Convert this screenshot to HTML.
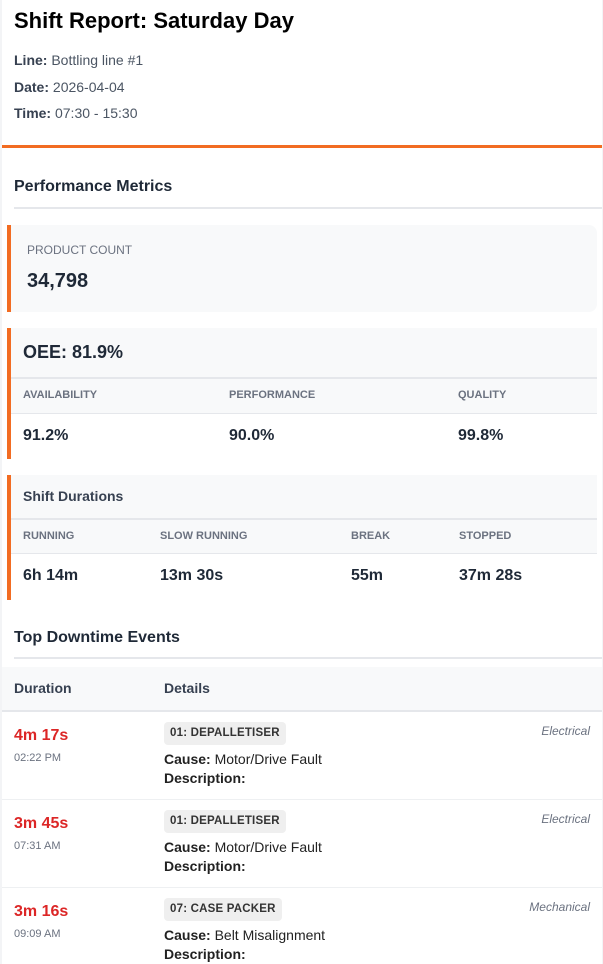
<!DOCTYPE html>
<html><head><meta charset="utf-8"><style>
*{margin:0;padding:0;box-sizing:border-box}
html,body{width:603px;height:964px;overflow:hidden;background:#f3f4f6;font-family:"Liberation Sans",Arial,sans-serif}
.c{position:absolute;left:2px;top:0;width:600px;height:964px;background:#fff}
.a{position:absolute;white-space:nowrap}
.t{line-height:20px}
.or{background:#f26c22}
.bg{background:#f8f9fa}
.ln{background:#e5e7eb}
.lab{font-size:11px;font-weight:bold;color:#6b7280;line-height:20px}
.val{font-size:16px;font-weight:bold;color:#1f2937;line-height:20px}
.meta{font-size:14px;color:#4b5563;line-height:20px;left:14px}
.meta b{color:#374151}
.red{font-size:16px;font-weight:bold;color:#dc2626;line-height:20px;left:14px}
.tm{font-size:11px;color:#6b7280;line-height:20px;left:14px}
.badge{left:164px;height:23px;background:#efefef;border-radius:4px;font-size:11.5px;font-weight:bold;color:#333;letter-spacing:0.2px;line-height:23px;padding:0 6px 0 6px}
.cause{left:164px;font-size:14px;color:#222;line-height:20px}
.cat{right:13px;font-size:12px;font-style:italic;color:#6b7280;line-height:20px;text-align:right}
.sep{left:2px;width:600px;height:1px;background:#eef0f2}
</style></head><body>
<div class="c"></div>

<div class="a" style="left:14px;top:8px;font-size:22px;font-weight:bold;color:#000;line-height:26px">Shift Report: Saturday Day</div>
<div class="a meta" style="top:50px"><b>Line:</b> Bottling line #1</div>
<div class="a meta" style="top:77px"><b>Date:</b> 2026-04-04</div>
<div class="a meta" style="top:103px"><b>Time:</b> 07:30 - 15:30</div>

<div class="a or" style="left:2px;top:145px;width:600px;height:3px"></div>

<div class="a t" style="left:14px;top:177px;font-size:16px;font-weight:bold;color:#1f2937">Performance Metrics</div>
<div class="a ln" style="left:14px;top:207px;width:588px;height:2px"></div>

<!-- Product count card -->
<div class="a bg" style="left:7px;top:225px;width:590px;height:87px;border-left:4px solid #f26c22;border-radius:0 8px 8px 0"></div>
<div class="a" style="left:27px;top:240px;font-size:12px;color:#6b7280;line-height:20px">PRODUCT COUNT</div>
<div class="a" style="left:27px;top:269px;font-size:20px;font-weight:bold;color:#1f2937;line-height:24px">34,798</div>

<!-- OEE card -->
<div class="a or" style="left:7px;top:328px;width:4px;height:131px"></div>
<div class="a bg" style="left:11px;top:328px;width:586px;height:49px"></div>
<div class="a ln" style="left:11px;top:377px;width:586px;height:2px"></div>
<div class="a bg" style="left:11px;top:379px;width:586px;height:34px"></div>
<div class="a ln" style="left:11px;top:413px;width:586px;height:1px"></div>
<div class="a" style="left:23px;top:340px;font-size:18px;font-weight:bold;color:#1f2937;line-height:24px">OEE: 81.9%</div>
<div class="a lab" style="left:23px;top:385px">AVAILABILITY</div>
<div class="a lab" style="left:229px;top:385px">PERFORMANCE</div>
<div class="a lab" style="left:458px;top:385px">QUALITY</div>
<div class="a val" style="left:23px;top:426px">91.2%</div>
<div class="a val" style="left:229px;top:426px">90.0%</div>
<div class="a val" style="left:458px;top:426px">99.8%</div>

<!-- Shift durations card -->
<div class="a or" style="left:7px;top:475px;width:4px;height:125px"></div>
<div class="a bg" style="left:11px;top:475px;width:586px;height:43px"></div>
<div class="a ln" style="left:11px;top:518px;width:586px;height:2px"></div>
<div class="a bg" style="left:11px;top:520px;width:586px;height:33px"></div>
<div class="a ln" style="left:11px;top:553px;width:586px;height:1px"></div>
<div class="a t" style="left:23px;top:486px;font-size:14px;font-weight:bold;color:#374151">Shift Durations</div>
<div class="a lab" style="left:23px;top:526px">RUNNING</div>
<div class="a lab" style="left:160px;top:526px">SLOW RUNNING</div>
<div class="a lab" style="left:351px;top:526px">BREAK</div>
<div class="a lab" style="left:459px;top:526px">STOPPED</div>
<div class="a val" style="left:23px;top:566px">6h 14m</div>
<div class="a val" style="left:160px;top:566px">13m 30s</div>
<div class="a val" style="left:351px;top:566px">55m</div>
<div class="a val" style="left:459px;top:566px">37m 28s</div>

<!-- Downtime events -->
<div class="a t" style="left:14px;top:628px;font-size:16px;font-weight:bold;color:#1f2937">Top Downtime Events</div>
<div class="a ln" style="left:14px;top:657px;width:588px;height:2px"></div>
<div class="a bg" style="left:2px;top:667px;width:600px;height:43px"></div>
<div class="a ln" style="left:2px;top:710px;width:600px;height:2px"></div>
<div class="a t" style="left:14px;top:678px;font-size:14px;font-weight:bold;color:#374151">Duration</div>
<div class="a t" style="left:164px;top:678px;font-size:14px;font-weight:bold;color:#374151">Details</div>

<!-- row 1 -->
<div class="a red" style="top:726px">4m 17s</div>
<div class="a tm" style="top:748px">02:22 PM</div>
<div class="a badge" style="top:722px">01: DEPALLETISER</div>
<div class="a cat" style="top:721px">Electrical</div>
<div class="a cause" style="top:749px"><b>Cause:</b> Motor/Drive Fault</div>
<div class="a cause" style="top:768px"><b>Description:</b></div>
<div class="a sep" style="top:799px"></div>

<!-- row 2 -->
<div class="a red" style="top:814px">3m 45s</div>
<div class="a tm" style="top:836px">07:31 AM</div>
<div class="a badge" style="top:810px">01: DEPALLETISER</div>
<div class="a cat" style="top:809px">Electrical</div>
<div class="a cause" style="top:837px"><b>Cause:</b> Motor/Drive Fault</div>
<div class="a cause" style="top:856px"><b>Description:</b></div>
<div class="a sep" style="top:887px"></div>

<!-- row 3 -->
<div class="a red" style="top:902px">3m 16s</div>
<div class="a tm" style="top:924px">09:09 AM</div>
<div class="a badge" style="top:898px">07: CASE PACKER</div>
<div class="a cat" style="top:897px">Mechanical</div>
<div class="a cause" style="top:925px"><b>Cause:</b> Belt Misalignment</div>
<div class="a cause" style="top:944px"><b>Description:</b></div>
</body></html>
